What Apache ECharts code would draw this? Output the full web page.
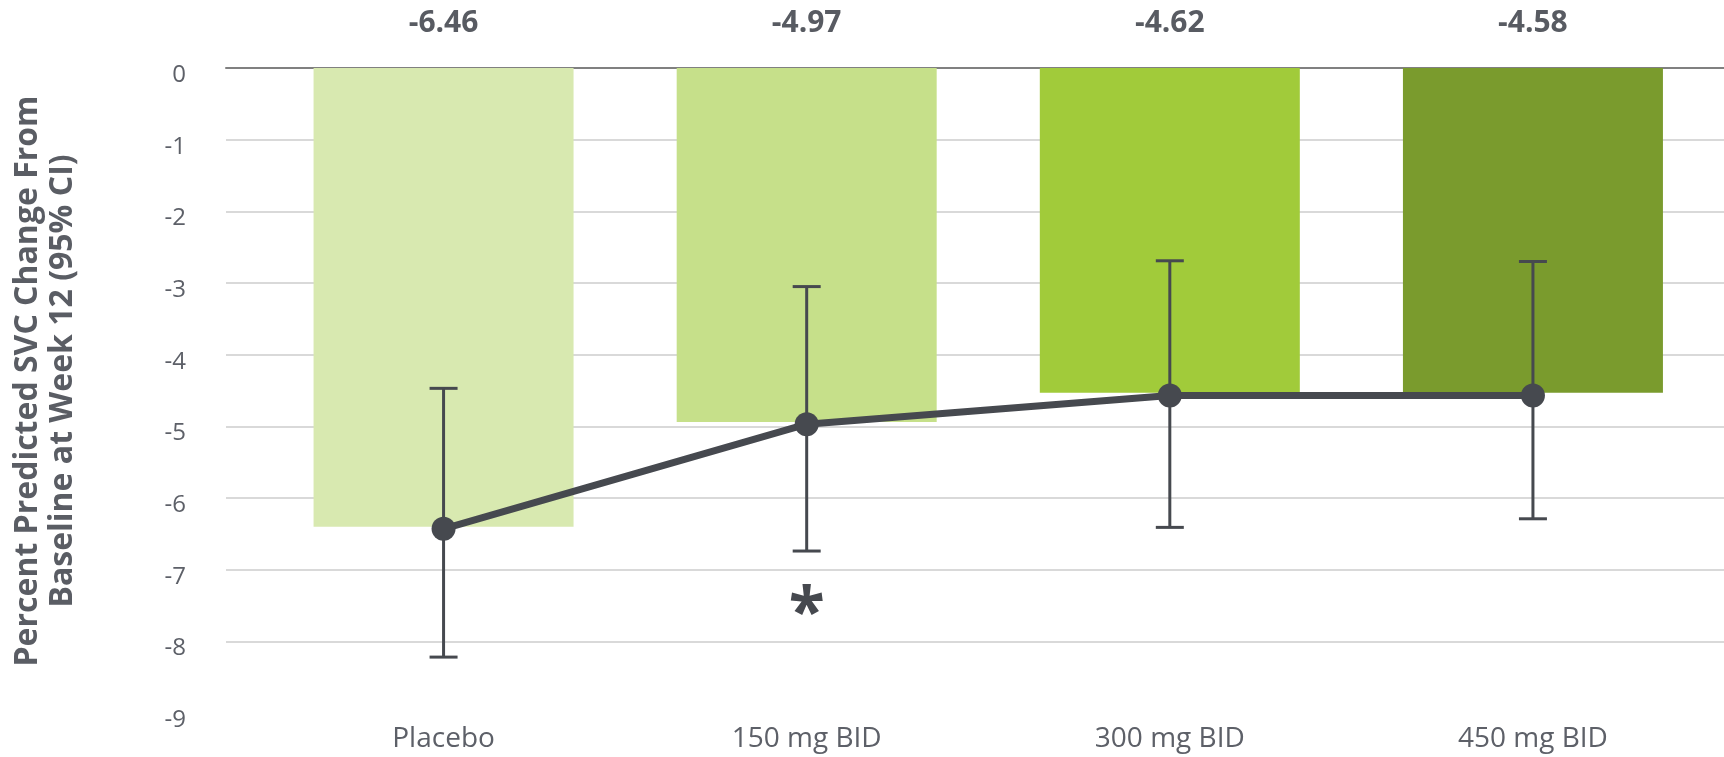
<!DOCTYPE html>
<html><head><meta charset="utf-8">
<script src="https://cdn.jsdelivr.net/npm/echarts@6/dist/echarts.min.js"></script>
<style>html,body{margin:0;padding:0;background:#fff}#c{width:1724px;height:757px}</style>
</head><body><div id="c"></div>
<script>
const categories = ['Placebo', '150 mg BID', '300 mg BID', '450 mg BID'];
const barValues = [-6.40, -4.94, -4.53, -4.53];
const meanValues = [-6.43, -4.97, -4.57, -4.57];
const ciLow = [-8.22, -6.74, -6.41, -6.29];
const ciHigh = [-4.47, -3.05, -2.69, -2.70];
const valueLabels = ['-6.46', '-4.97', '-4.62', '-4.58'];
const sigMarks = ['', '*', '', ''];
const yMin = -9, yMax = 0, yStep = 1;
const barColors = ['#d8e9b0', '#c6e08a', '#a1cb3a', '#7a9b2d'];
const yTitle = 'Percent Predicted SVC Change From\nBaseline at Week 12 (95% CI)';

const FONT = '"Open Sans", "Noto Sans", sans-serif';
const TXT = '#5d6068';
const DARK = '#46494f';

const chart = echarts.init(document.getElementById('c'), null, {renderer: 'canvas'});
chart.setOption({
  animation: false,
  backgroundColor: '#ffffff',
  grid: [
    {left: 262, right: 9.5, top: 68, bottom: 44},
    {left: 226, right: 0, top: 68, bottom: 44}
  ],
  xAxis: [
    {
      type: 'category', gridIndex: 0, position: 'bottom', data: categories,
      axisLine: {show: false, onZero: false}, axisTick: {show: false},
      axisLabel: {fontFamily: FONT, fontSize: 28, color: TXT, margin: 12}
    },
    {
      type: 'category', gridIndex: 0, position: 'top', data: valueLabels,
      axisLine: {show: false, onZero: false}, axisTick: {show: false},
      axisLabel: {fontFamily: FONT, fontSize: 30, fontWeight: 'bold', color: '#585b62', margin: 30}
    },
    {
      type: 'value', gridIndex: 1, position: 'top', min: 0, max: 1,
      axisLine: {show: true, onZero: false, lineStyle: {color: '#808080', width: 2}},
      axisTick: {show: false}, axisLabel: {show: false}, splitLine: {show: false}
    }
  ],
  yAxis: [
    {type: 'value', gridIndex: 0, min: yMin, max: yMax, interval: yStep, show: false},
    {
      type: 'value', gridIndex: 1, min: yMin, max: yMax, interval: yStep,
      axisLine: {show: false}, axisTick: {show: false},
      axisLabel: {
        margin: 40,
        formatter: function (v) { return '{a|' + v + '}'; },
        rich: {a: {fontFamily: FONT, fontSize: 24, color: TXT, padding: [14, 0, 0, 0]}}
      },
      splitLine: {show: true, showMinLine: false, lineStyle: {color: '#d9d9d9', width: 2}}
    }
  ],
  graphic: [{
    type: 'text', x: 45, y: 381, rotation: Math.PI / 2,
    style: {text: yTitle, align: 'center', verticalAlign: 'middle',
      font: 'bold 32px ' + FONT, lineHeight: 35, fill: '#5a5d64'}
  }],
  series: [
    {
      type: 'bar', xAxisIndex: 0, yAxisIndex: 0, barWidth: 260,
      data: barValues.map((v, i) => ({value: v, itemStyle: {color: barColors[i]}})),
      z: 2
    },
    {
      type: 'custom', xAxisIndex: 0, yAxisIndex: 0, z: 3,
      data: categories.map((c, i) => [i, ciLow[i], ciHigh[i]]),
      encode: {x: 0, y: [1, 2]},
      renderItem: function (params, api) {
        const i = api.value(0);
        const lo = api.coord([i, api.value(1)]);
        const hi = api.coord([i, api.value(2)]);
        const x = lo[0], cw = 14;
        const st = {stroke: DARK, lineWidth: 3};
        const children = [
          {type: 'line', shape: {x1: x, y1: lo[1], x2: x, y2: hi[1]}, style: st},
          {type: 'line', shape: {x1: x - cw, y1: lo[1], x2: x + cw, y2: lo[1]}, style: st},
          {type: 'line', shape: {x1: x - cw, y1: hi[1], x2: x + cw, y2: hi[1]}, style: st}
        ];
        const m = sigMarks[params.dataIndex];
        if (m) {
          children.push({type: 'text', style: {text: m, x: x, y: lo[1] + 65,
            align: 'center', verticalAlign: 'middle', font: 'bold 66px ' + FONT, fill: DARK}});
        }
        return {type: 'group', children: children};
      }
    },
    {
      type: 'line', xAxisIndex: 0, yAxisIndex: 0, z: 4,
      data: meanValues,
      symbol: 'circle', symbolSize: 24,
      lineStyle: {color: DARK, width: 7},
      itemStyle: {color: DARK}
    }
  ]
});
</script></body></html>
